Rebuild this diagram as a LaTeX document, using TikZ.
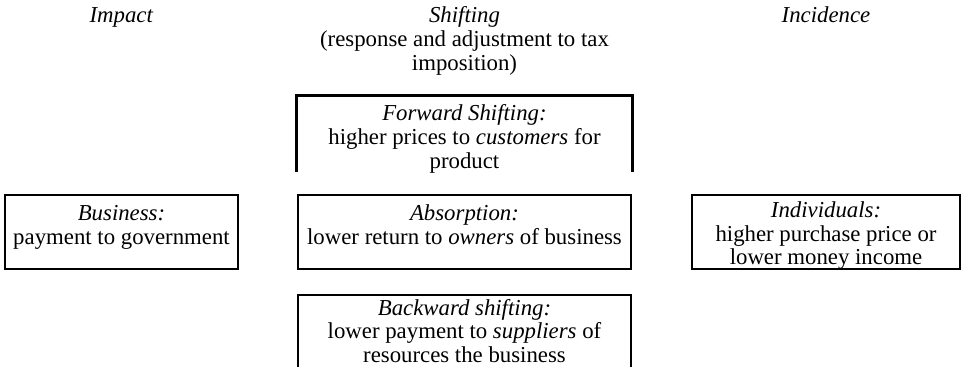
\documentclass[tikz,border=0pt]{standalone}
\usepackage{fontspec}
\setmainfont{Liberation Serif}
\usetikzlibrary{positioning}
\newcommand{\taxfont}{\fontsize{11.4pt}{11.8pt}\selectfont}
\tikzset{
    taxbox/.style={draw, line width=1.4pt, minimum height=37pt, inner sep=0pt},
    openbox/.style={line width=1.4pt},
    boxtext/.style={align=center, anchor=base, inner sep=0pt, font=\taxfont},
    heading/.style={align=center, anchor=base, inner sep=0pt, font=\taxfont}
}
\begin{document}
\begin{tikzpicture}[x=0.5pt, y=-0.5pt]
    \useasboundingbox (0,0) rectangle (963,367);

    % column headings (anchored at the baseline of the last line)
    \node[heading] (impact) at (121.5,23) {\textit{Impact}};
    \node[heading] (shifting) at (464.5,70.2) {\textit{Shifting}\\(response and adjustment to tax\\imposition)};
    \node[heading] (incidence) at (826,23) {\textit{Incidence}};

    % boxes
    \node[taxbox, draw=none, minimum width=166.5pt] (forward) at (464.5,134) {};
    \node[taxbox, minimum width=116.5pt] (business) at (121.5,232) {};
    \node[taxbox, minimum width=166.5pt] (absorption) at (464.5,232) {};
    \node[taxbox, minimum width=134pt] (individuals) at (826,232) {};
    \node[taxbox, minimum width=166.5pt] (backward) at (464.5,332) {};
    \draw[openbox] (forward.south west) |- (forward.north east) -- (forward.south east);

    % box texts
    \node[boxtext] (forwardtext) at (464.5,168.2) {\textit{Forward Shifting:}\\higher prices to \textit{customers} for\\product};
    \node[boxtext] (businesstext) at (121.5,244.6) {\textit{Business:}\\payment to government};
    \node[boxtext] (absorptiontext) at (464.5,244.6) {\textit{Absorption:}\\lower return to \textit{owners} of business};
    \node[boxtext] (individualstext) at (826,265) {\textit{Individuals:}\\higher purchase price or\\lower money income};
    \node[boxtext] (backwardtext) at (464.5,362.5) {\textit{Backward shifting:}\\lower payment to \textit{suppliers} of\\resources the business};
\end{tikzpicture}
\end{document}
